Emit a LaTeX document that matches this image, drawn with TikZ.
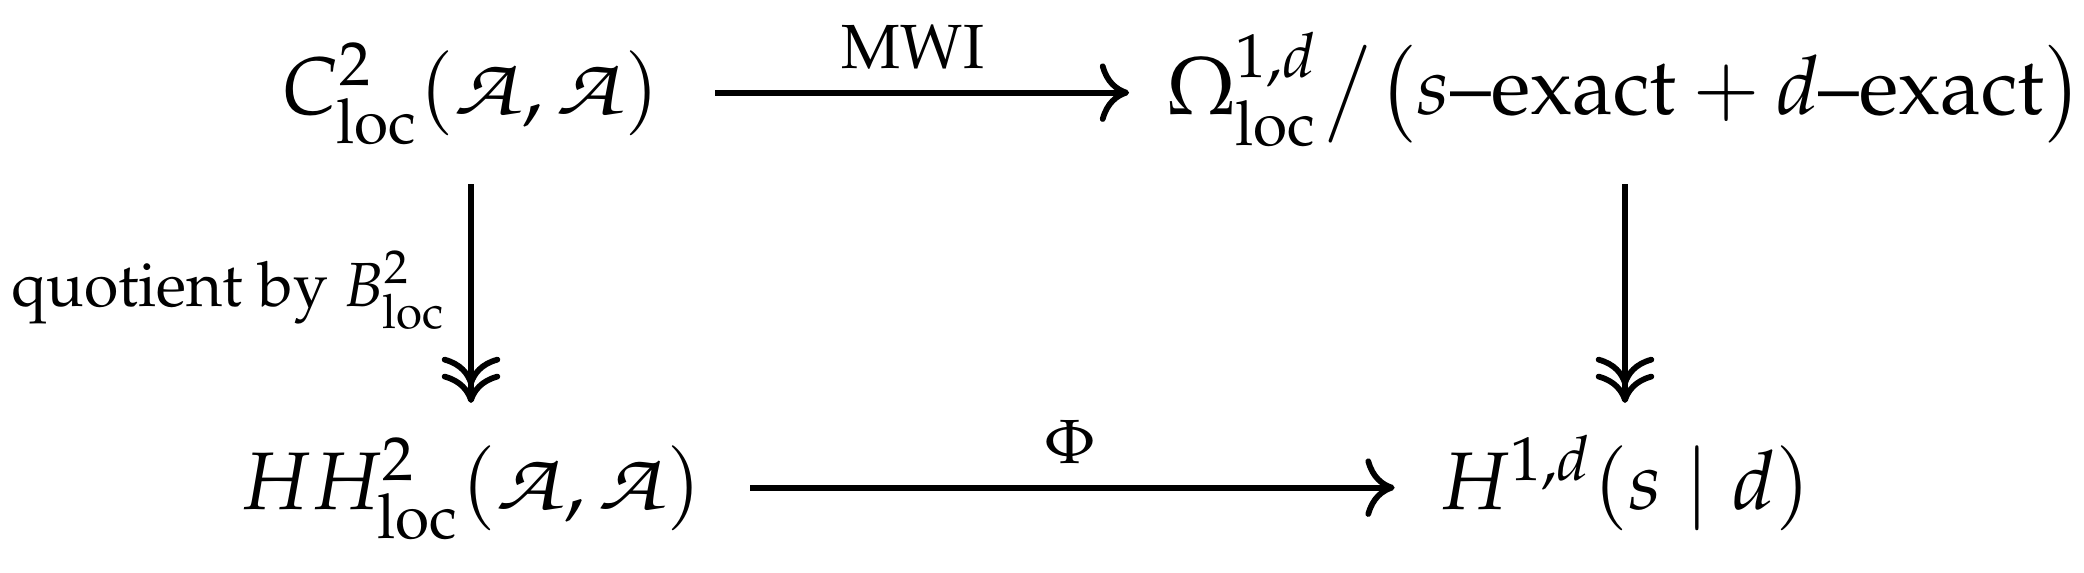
\documentclass[tikz,border=0pt]{standalone}
\usepackage{amsmath}
\IfFileExists{mathpazo.sty}{%
  \usepackage[T1]{fontenc}%
  \usepackage{mathpazo}}{}
\IfFileExists{ot1pzc.fd}{%
  \DeclareMathAlphabet{\mathcal}{OT1}{pzc}{m}{it}}{}
\usepackage{tikz}
\usetikzlibrary{arrows.meta,positioning}
\tikzset{
  % objects of the square, all with the same box so arrows meet at the axis
  obj/.style={inner sep=0pt, anchor=base, text height=10.8pt, text depth=5pt,
    font=\fontsize{10.6}{12.5}\selectfont},
  % plain map
  mapto/.style={-{Computer Modern Rightarrow[length=3.8pt,width=7.6pt]},
    line width=0.75pt, shorten <=6.1pt, shorten >=5.6pt},
  % quotient map, two heads
  surj/.style={-{Computer Modern Rightarrow[length=3.8pt,width=7.6pt,sep=-1.6pt]
    Computer Modern Rightarrow[length=3.8pt,width=7.6pt]},
    line width=0.75pt, shorten <=3.8pt, shorten >=2.9pt},
  % labels on the maps
  maplbl/.style={font=\fontsize{8.1}{9.5}\selectfont, inner sep=2.7pt},
}
% the wide script A of the algebra
\newcommand{\cA}{\mathord{\scalebox{1.2}[1]{$\mathcal{A}$}}}

\begin{document}
\begin{tikzpicture}[x=0.1299pt, y=-0.1299pt]
    \useasboundingbox (0,0) rectangle (2084,573);
    % the four corners
    \node[obj] (Cloc) at (471,115) {$C^2_{\mathrm{loc}}(\cA,\cA)$};
    \node[obj] (Omega) at (1625,115)
      {$\Omega^{1,d}_{\mathrm{loc}}\mkern1mu\big/\mkern1mu\bigl(s\text{--exact}+d\text{--exact}\bigr)$};
    \node[obj] (HHloc) at (471,510) {$HH^2_{\mathrm{loc}}(\cA,\cA)$};
    \node[obj] (Hsd) at (1625,510) {$H^{1,d}(s\mid d)$};
    % the maps
    \draw[mapto, shorten <=7pt, shorten >=4.6pt] (Cloc) -- node[maplbl, above] {MWI} (Omega);
    \draw[surj] (Cloc) -- node[maplbl, left] {quotient by $B^2_{\mathrm{loc}}$} (HHloc);
    \draw[surj] (Omega) -- (Hsd);
    \draw[mapto] (HHloc) -- node[maplbl, above] {$\Phi$} (Hsd);
\end{tikzpicture}
\end{document}
